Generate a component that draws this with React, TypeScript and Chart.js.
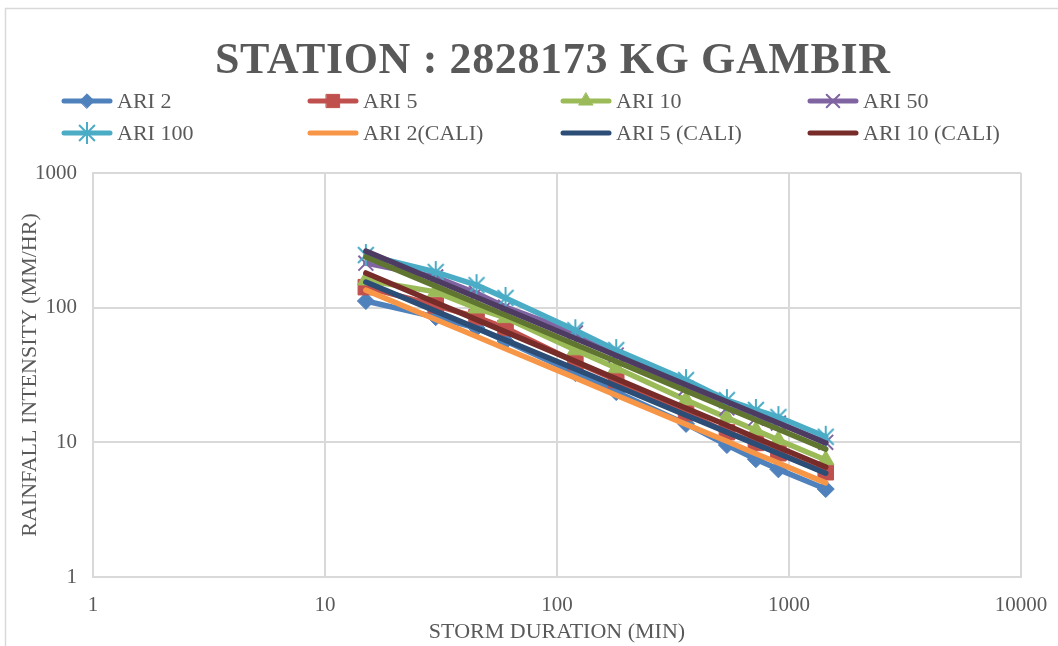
import React, { useEffect, useRef } from 'react';
import { Chart, registerables } from 'chart.js';
import { drawPoint } from 'chart.js/helpers';

Chart.register(...registerables);

// Storm durations (minutes) and rainfall intensities (mm/hr)
const chartTitle = 'STATION : 2828173 KG GAMBIR';
const xAxisTitle = 'STORM DURATION (MIN)';
const yAxisTitle = 'RAINFALL INTENSITY (MM/HR)';

const durations = [15, 30, 45, 60, 120, 180, 360, 540, 720, 900, 1440];

const ari2 = [112, 85, 70.6, 56.5, 32.7, 23.6, 13.7, 9.55, 7.5, 6.3, 4.5];
const ari5 = [142, 104, 85, 70.6, 39.5, 29, 16.5, 11.9, 9.9, 8.3, 6.0];
const ari10 = [160, 131, 99, 84, 48.4, 35.6, 20.6, 15.2, 12.3, 10.4, 7.4];
const ari50 = [214, 169, 128, 101, 65, 44.5, 25.3, 18, 15.1, 13.9, 10];
const ari100 = [246, 184, 147, 118, 68, 48.4, 29, 20.6, 17.4, 15.4, 11];

const ari2Cali = [135, 81.8, 61.1, 49.6, 30.1, 22.4, 13.6, 10.2, 8.24, 7.02, 5.0];
const ari5Cali = [155, 94.3, 70.5, 57.4, 35.0, 26.2, 15.9, 11.9, 9.7, 8.26, 5.9];
const ari10Cali = [181, 109.4, 81.5, 66.1, 39.9, 29.7, 17.9, 13.4, 10.8, 9.2, 6.55];
const ari50Cali = [238, 144.5, 108, 87.8, 53.3, 39.8, 24.1, 18.0, 14.65, 12.5, 8.9];
const ari100Cali = [263, 159.8, 119.5, 97.1, 59.0, 44.1, 26.8, 20.0, 16.3, 13.9, 9.9];

const seriesNames = [
  'ARI 2', 'ARI 5', 'ARI 10', 'ARI 50', 'ARI 100',
  'ARI 2(CALI)', 'ARI 5 (CALI)', 'ARI 10 (CALI)', 'ARI 50 (CALI)', 'ARI 100 (CALI)',
];
const seriesValues = [ari2, ari5, ari10, ari50, ari100, ari2Cali, ari5Cali, ari10Cali, ari50Cali, ari100Cali];
const seriesColors = [
  '#4F81BD', '#C0504D', '#9BBB59', '#8064A2', '#4BACC6',
  '#F79646', '#2C4D75', '#772C2A', '#5F7530', '#4D3B62',
];
// marker kind per series: none for the calibrated curves
const seriesMarkers = ['diamond', 'square', 'triangle', 'x', 'star', 'none', 'none', 'none', 'none', 'none'];
const legendEntries = 8;

const xTickValues = [1, 10, 100, 1000, 10000];
const yTickValues = [1, 10, 100, 1000];

const TEXT = '#595959';
const GRID = '#d9d9d9';
const SERIF = '"Liberation Serif", "Times New Roman", serif';

function makeStar(color: string, r: number): HTMLCanvasElement {
  const c = document.createElement('canvas');
  const s = Math.ceil(2 * r + 4);
  c.width = s;
  c.height = s;
  const g = c.getContext('2d')!;
  const m = s / 2;
  const d = r * 0.72;
  g.strokeStyle = color;
  g.lineWidth = 2;
  g.lineCap = 'butt';
  g.beginPath();
  g.moveTo(m, m - r);
  g.lineTo(m, m + r);
  g.moveTo(m - d, m - d);
  g.lineTo(m + d, m + d);
  g.moveTo(m - d, m + d);
  g.lineTo(m + d, m - d);
  g.stroke();
  return c;
}

function markerStyle(kind: string, color: string): { pointStyle: any; radius: number; borderWidth: number } {
  switch (kind) {
    case 'diamond':
      return { pointStyle: 'rectRot', radius: 8.5, borderWidth: 1 };
    case 'square':
      return { pointStyle: 'rect', radius: 11, borderWidth: 1 };
    case 'triangle':
      return { pointStyle: 'triangle', radius: 9.5, borderWidth: 1 };
    case 'x':
      return { pointStyle: 'crossRot', radius: 10.5, borderWidth: 2 };
    case 'star':
      return { pointStyle: makeStar(color, 11), radius: 11, borderWidth: 0 };
    default:
      return { pointStyle: false, radius: 0, borderWidth: 0 };
  }
}

export default function App() {
  const ref = useRef<HTMLCanvasElement>(null);

  useEffect(() => {
    const canvas = ref.current;
    if (!canvas) return;

    const markers = seriesMarkers.map((k, i) => markerStyle(k, seriesColors[i]));

    const datasets = seriesNames.map((name, i) => ({
      label: name,
      data: durations.map((d, j) => ({ x: d, y: seriesValues[i][j] })),
      borderColor: seriesColors[i],
      backgroundColor: seriesColors[i],
      borderWidth: 5.5,
      borderCapStyle: 'round' as const,
      borderJoinStyle: 'round' as const,
      pointStyle: markers[i].pointStyle,
      pointRadius: markers[i].radius,
      pointBorderWidth: markers[i].borderWidth,
      pointBackgroundColor: seriesColors[i],
      pointBorderColor: seriesColors[i],
      tension: 0,
      fill: false,
      // later series are painted over earlier ones
      order: seriesNames.length - i,
    }));

    const frameAndLegend = {
      id: 'frameAndLegend',
      beforeDraw(chart: any) {
        const ctx = chart.ctx as CanvasRenderingContext2D;
        ctx.save();
        ctx.fillStyle = '#ffffff';
        ctx.fillRect(0, 0, chart.width, chart.height);
        ctx.strokeStyle = GRID;
        ctx.lineWidth = 1.5;
        ctx.strokeRect(5.5, 8.5, chart.width + 20, chart.height + 20);
        ctx.restore();
      },
      afterDraw(chart: any) {
        const ctx = chart.ctx as CanvasRenderingContext2D;
        ctx.save();
        // title
        ctx.font = `bold 44px ${SERIF}`;
        ctx.fillStyle = TEXT;
        ctx.textBaseline = 'alphabetic';
        ctx.textAlign = 'left';
        (ctx as any).letterSpacing = '0px';
        const w0 = ctx.measureText(chartTitle).width;
        const spacing = Math.max(0, (675 - w0) / (chartTitle.length - 1));
        (ctx as any).letterSpacing = `${spacing}px`;
        ctx.fillText(chartTitle, 552.5 - 675 / 2, 73);
        (ctx as any).letterSpacing = '0px';

        // legend, four columns by two rows
        const colX = [62, 308, 561, 808];
        const rowY = [101, 133];
        ctx.font = `22px ${SERIF}`;
        ctx.textBaseline = 'middle';
        for (let i = 0; i < legendEntries; i++) {
          const x0 = colX[i % 4];
          const y = rowY[Math.floor(i / 4)];
          const color = seriesColors[i];
          ctx.strokeStyle = color;
          ctx.fillStyle = color;
          ctx.lineWidth = 5;
          ctx.lineCap = 'round';
          ctx.beginPath();
          ctx.moveTo(x0 + 2, y);
          ctx.lineTo(x0 + 48, y);
          ctx.stroke();
          const m = markers[i];
          if (m.pointStyle) {
            ctx.lineWidth = m.borderWidth;
            drawPoint(ctx, { pointStyle: m.pointStyle, rotation: 0, radius: m.radius * 0.85, borderWidth: m.borderWidth } as any, x0 + 25, y);
          }
          ctx.fillStyle = TEXT;
          ctx.fillText(seriesNames[i], x0 + 55, y + 1);
        }
        ctx.restore();
      },
    };

    const chart = new Chart(canvas, {
      type: 'line',
      data: { datasets: datasets as any },
      options: {
        responsive: false,
        animation: false,
        devicePixelRatio: 1,
        layout: { padding: { top: 173, right: 37, left: 0, bottom: 0 } },
        plugins: {
          legend: { display: false },
          title: { display: false },
          tooltip: { enabled: false },
        },
        scales: {
          x: {
            type: 'logarithmic',
            min: 1,
            max: 10000,
            afterBuildTicks: (axis: any) => {
              axis.ticks = xTickValues.map((v) => ({ value: v }));
            },
            afterFit: (axis: any) => {
              axis.height = 69;
              axis.paddingLeft = 0;
              axis.paddingRight = 0;
            },
            grid: { color: GRID, lineWidth: 2, drawTicks: false },
            border: { display: true, color: GRID, width: 2 },
            ticks: {
              color: TEXT,
              font: { family: SERIF, size: 21 },
              padding: 16,
              maxRotation: 0,
              autoSkip: false,
              callback: (v: any) => String(v),
            },
            title: {
              display: true,
              text: xAxisTitle,
              color: TEXT,
              font: { family: SERIF, size: 22 },
              padding: { top: 0, bottom: 1 },
            },
          },
          y: {
            type: 'logarithmic',
            min: 1,
            max: 1000,
            afterBuildTicks: (axis: any) => {
              axis.ticks = yTickValues.map((v) => ({ value: v }));
            },
            afterFit: (axis: any) => {
              axis.width = 93;
              axis.paddingTop = 0;
              axis.paddingBottom = 0;
            },
            grid: { color: GRID, lineWidth: 2, drawTicks: false },
            border: { display: true, color: GRID, width: 2 },
            ticks: {
              color: TEXT,
              font: { family: SERIF, size: 21 },
              padding: 16,
              autoSkip: false,
              callback: (v: any) => String(v),
            },
            title: {
              display: true,
              text: yAxisTitle,
              color: TEXT,
              font: { family: SERIF, size: 22 },
              padding: { top: 17, bottom: 0 },
            },
          },
        },
      },
      plugins: [frameAndLegend],
    });

    return () => chart.destroy();
  }, []);

  return (
    <div style={{ position: 'fixed', left: 0, top: 0, width: 1058, height: 646, overflow: 'hidden', background: '#fff' }}>
      <canvas ref={ref} width={1058} height={646} style={{ display: 'block' }} />
    </div>
  );
}
